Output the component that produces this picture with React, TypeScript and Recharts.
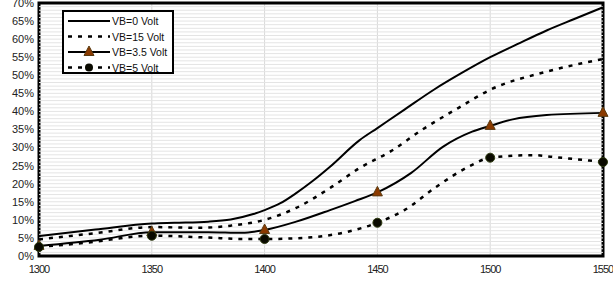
import React from 'react';
import { LineChart, Line, XAxis, YAxis, CartesianGrid, ReferenceArea, ReferenceLine } from 'recharts';

// x positions (shared) and series values in %
const xVb0 = [1300, 1325, 1350, 1360, 1375, 1385, 1395, 1400, 1407, 1414, 1421, 1429, 1442, 1450, 1462, 1475, 1487, 1500, 1512, 1525, 1537, 1550];
const vb0 = [5.5, 7.3, 9, 9.2, 9.5, 10.1, 11.6, 12.7, 14.6, 17.4, 20.6, 24.7, 32, 35.4, 40.5, 46, 50.5, 55, 58.6, 62.4, 65.5, 68.8];

const xVb15 = [1300, 1325, 1350, 1371, 1385, 1400, 1414, 1429, 1442, 1456, 1470, 1486, 1500, 1525, 1550];
const vb15 = [4.6, 6.3, 8, 7.8, 8.4, 10, 13.3, 18.8, 24.3, 29, 35, 41, 46, 51, 54.5];

const xVb35 = [1300, 1327, 1350, 1375, 1390, 1400, 1414, 1429, 1440, 1450, 1465, 1479, 1492, 1500, 1510, 1525, 1550];
const vb35 = [2.8, 4.5, 6.6, 6.6, 6.4, 7.2, 9.5, 12.7, 15.2, 17.6, 23, 30.2, 34.4, 36, 37.8, 39, 39.6];

const xVb5 = [1300, 1320, 1350, 1375, 1390, 1400, 1414, 1436, 1450, 1462, 1476, 1491, 1500, 1519, 1528, 1550];
const vb5 = [2.5, 3.6, 5.6, 5.1, 4.7, 4.7, 4.9, 6.6, 9.2, 12.7, 19.1, 24.9, 27.2, 27.9, 27.4, 26];

const xTicks = [1300, 1350, 1400, 1450, 1500, 1550];
const yTicks = [0, 5, 10, 15, 20, 25, 30, 35, 40, 45, 50, 55, 60, 65, 70];

const seriesNames = ['VB=0 Volt', 'VB=15 Volt', 'VB=3.5 Volt', 'VB=5 Volt'];

const toRows = (xs: number[], vs: number[]) => xs.map((x, i) => ({ x, v: vs[i] }));

// light minor gridlines every 1%
const minorGrid = Array.from({ length: 69 }, (_, i) => i + 1);

const isMajor = (x: number) => x % 50 === 0;

const Triangle = (props: any) => {
  const { cx, cy, payload } = props;
  if (!isMajor(payload.x)) return <g key={`t${payload.x}`} />;
  return (
    <polygon
      key={`t${payload.x}`}
      points={`${cx},${cy - 6} ${cx - 5},${cy + 3.5} ${cx + 5},${cy + 3.5}`}
      fill="#8B3A00"
      stroke="#5a3a10"
      strokeWidth={1}
    />
  );
};

const Circle = (props: any) => {
  const { cx, cy, payload } = props;
  if (!isMajor(payload.x)) return <g key={`c${payload.x}`} />;
  return <circle key={`c${payload.x}`} cx={cx} cy={cy} r={4.5} fill="#0a0a00" stroke="#2e3a10" strokeWidth={1} />;
};

const LegendBox = () => {
  const rows = [
    { name: seriesNames[0], dash: undefined, marker: null },
    { name: seriesNames[1], dash: '4 6', marker: null },
    { name: seriesNames[2], dash: undefined, marker: 'tri' },
    { name: seriesNames[3], dash: '4 6', marker: 'dot' },
  ];
  return (
    <div
      style={{
        position: 'absolute',
        left: 62,
        top: 10,
        width: 112,
        height: 64,
        border: '2px solid #000',
        background: '#fff',
        boxSizing: 'border-box',
      }}
    >
      <svg width={108} height={60} style={{ display: 'block' }}>
        {rows.map((r, i) => {
          const y = 9 + i * 15.5;
          return (
            <g key={r.name}>
              <line x1={4} x2={46} y1={y} y2={y} stroke="#000" strokeWidth={r.dash ? 2.5 : 2} strokeDasharray={r.dash} />
              {r.marker === 'tri' && (
                <polygon points={`25,${y - 6} 20,${y + 3.5} 30,${y + 3.5}`} fill="#8B3A00" stroke="#5a3a10" />
              )}
              {r.marker === 'dot' && <circle cx={25} cy={y} r={4} fill="#0a0a00" />}
              <text x={48} y={y + 4} fontSize={10.5} fontFamily="Liberation Sans, Arial, sans-serif" fill="#111">
                {r.name}
              </text>
            </g>
          );
        })}
      </svg>
    </div>
  );
};

export default function App() {
  const tickStyle = { fontSize: 11, fontFamily: 'Liberation Sans, Arial, sans-serif', fill: '#222' };
  return (
    <div style={{ position: 'absolute', left: 0, top: 0, width: 613, height: 281, background: '#fff' }}>
      <LineChart width={613} height={281} margin={{ top: 3, right: 10, left: 0, bottom: 0 }}>
        <CartesianGrid horizontal={false} stroke="#d8d8d8" strokeWidth={1} />
        {minorGrid.map((v) => (
          <ReferenceLine key={v} y={v} stroke="#e4e4e4" strokeWidth={1} />
        ))}
        <XAxis
          type="number"
          dataKey="x"
          domain={[1300, 1550]}
          ticks={xTicks}
          interval={0}
          allowDuplicatedCategory={false}
          axisLine={false}
          tickLine={false}
          tickSize={0}
          tickMargin={9}
          height={25}
          tick={{ ...tickStyle, letterSpacing: -1 }}
        />
        <YAxis
          type="number"
          domain={[0, 70]}
          ticks={yTicks}
          interval={0}
          tickFormatter={(v) => `${v}%`}
          axisLine={false}
          tickLine={false}
          tickSize={0}
          tickMargin={5}
          width={39}
          tick={tickStyle}
          allowDataOverflow
        />
        <ReferenceArea x1={1300} x2={1550} y1={0} y2={70} fill="none" stroke="#000" strokeWidth={3} ifOverflow="visible" />
        <Line data={toRows(xVb0, vb0)} dataKey="v" name={seriesNames[0]} type="monotone" stroke="#000" strokeWidth={2} dot={false} isAnimationActive={false} />
        <Line data={toRows(xVb15, vb15)} dataKey="v" name={seriesNames[1]} type="monotone" stroke="#000" strokeWidth={2.5} strokeDasharray="4 6" dot={false} isAnimationActive={false} />
        <Line data={toRows(xVb35, vb35)} dataKey="v" name={seriesNames[2]} type="monotone" stroke="#000" strokeWidth={2} dot={<Triangle />} isAnimationActive={false} />
        <Line data={toRows(xVb5, vb5)} dataKey="v" name={seriesNames[3]} type="monotone" stroke="#000" strokeWidth={2.5} strokeDasharray="4 6" dot={<Circle />} isAnimationActive={false} />
      </LineChart>
      <LegendBox />
    </div>
  );
}
